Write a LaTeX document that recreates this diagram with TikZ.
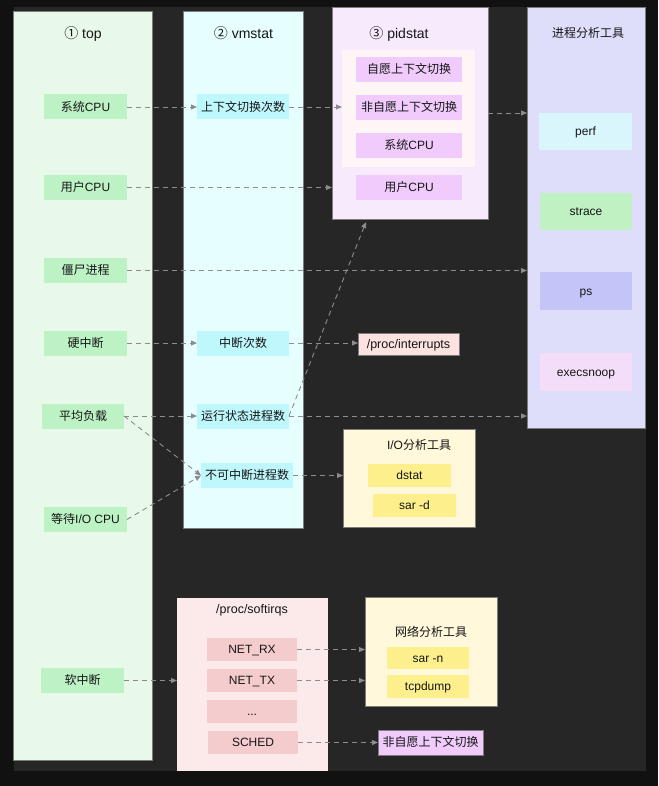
\documentclass[tikz,border=0pt]{standalone}
\usepackage{fontspec}
\setmainfont{Liberation Sans}
\newfontfamily\cjk{Noto Sans CJK SC}
\usetikzlibrary{arrows.meta}
\definecolor{outerbg}{HTML}{111111}
\definecolor{innerbg}{HTML}{262626}
\definecolor{colgreen}{HTML}{E8F8E9}
\definecolor{colcyan}{HTML}{E6FEFE}
\definecolor{colpid}{HTML}{F7EAFD}
\definecolor{pidgrpc}{HTML}{FEF6F6}
\definecolor{colproc}{HTML}{DEDEFA}
\definecolor{itgreen}{HTML}{BDF2C5}
\definecolor{itcyan}{HTML}{BEF8FD}
\definecolor{itpurple}{HTML}{F0CBFC}
\definecolor{itperf}{HTML}{D8F6FB}
\definecolor{itstrace}{HTML}{BFF1C3}
\definecolor{itps}{HTML}{C4C4F9}
\definecolor{itexec}{HTML}{F4DDF9}
\definecolor{itint}{HTML}{FCE2E1}
\definecolor{toolbox}{HTML}{FFF8DB}
\definecolor{ityellow}{HTML}{FCEF8C}
\definecolor{colsoft}{HTML}{FCEAEB}
\definecolor{itsoft}{HTML}{F4CCCE}
\definecolor{arrowc}{HTML}{8C8C8C}
\definecolor{framec}{HTML}{7C7C7C}
\definecolor{txt}{HTML}{161616}
\begin{document}
\begin{tikzpicture}[x=1pt,y=-1pt,
  base/.style={inner sep=0pt, outer sep=0pt, align=center, text=txt, font=\fontsize{12}{14}\selectfont},
  column/.style={base, draw=framec, line width=0.8pt, fill=#1},
  item/.style={base, fill=#1, minimum height=25, text height=10pt, text depth=1.2pt},
  coltitle/.style={base, font=\fontsize{14}{16}\selectfont, text height=11.5pt, text depth=1.5pt},
  subtitle/.style={base, font=\fontsize{12}{14}\selectfont, text height=10pt, text depth=1.2pt},
  arr/.style={draw=arrowc, line width=0.9pt, dash pattern=on 5pt off 4pt, -{Triangle[length=6pt,width=5pt]}}
]
\useasboundingbox (0,0) rectangle (658,786);
\fill[outerbg] (0,0) rectangle (658,786);
\fill[innerbg] (14,7) rectangle (646,771);

% columns
\node[column=colgreen, minimum width=138.5, minimum height=749] (ctop) at (82.75,385.5) {};
\node[column=colcyan, minimum width=120, minimum height=517] (cvm) at (243,269.5) {};
\node[column=colpid, minimum width=156, minimum height=212] (cpid) at (410,113) {};
\node[base, fill=pidgrpc, minimum width=133, minimum height=117] (pidgrp) at (408.5,108.5) {};
\node[column=colproc, minimum width=118, minimum height=421] (cproc) at (586,217.5) {};
\node[column=toolbox, minimum width=132, minimum height=98] (iobox) at (409,478) {};
\node[column=colsoft, draw=none, minimum width=151, minimum height=173] (softbox) at (252.5,684.5) {};
\node[column=toolbox, minimum width=132, minimum height=109] (netbox) at (431,651.5) {};

% titles
\node[coltitle] (ttop) at (83,34) {{\cjk ①} top};
\node[coltitle] (tvm) at (243.5,34) {{\cjk ②} vmstat};
\node[coltitle] (tpid) at (399,34) {{\cjk ③} pidstat};
\node[subtitle] (tproc) at (588,33) {\cjk 进程分析工具};
\node[subtitle] (tio) at (419,445) {I/O{\cjk 分析工具}};
\node[subtitle, font=\fontsize{12.5}{14}\selectfont] (tsoft) at (252,609) {/proc/softirqs};
\node[subtitle] (tnet) at (431,632) {\cjk 网络分析工具};

% top items
\node[item=itgreen, minimum width=83] (sys) at (85.5,107) {{\cjk 系统}CPU};
\node[item=itgreen, minimum width=83] (usr) at (85.5,187.5) {{\cjk 用户}CPU};
\node[item=itgreen, minimum width=83] (zombie) at (85.5,270.5) {\cjk 僵尸进程};
\node[item=itgreen, minimum width=83] (hard) at (85.5,343) {\cjk 硬中断};
\node[item=itgreen, minimum width=82] (load) at (83,416) {\cjk 平均负载};
\node[item=itgreen, minimum width=83] (wait) at (85.5,519.5) {{\cjk 等待}I/O CPU};
\node[item=itgreen, minimum width=83] (soft) at (82.5,680.5) {\cjk 软中断};

% vmstat items
\node[item=itcyan, minimum width=92] (ctx) at (243,107) {\cjk 上下文切换次数};
\node[item=itcyan, minimum width=92] (irq) at (243,343) {\cjk 中断次数};
\node[item=itcyan, minimum width=92] (run) at (243,416) {\cjk 运行状态进程数};
\node[item=itcyan, minimum width=92] (unint) at (247,475.5) {\cjk 不可中断进程数};

% pidstat items
\node[item=itpurple, minimum width=106] (vol) at (409,69.5) {\cjk 自愿上下文切换};
\node[item=itpurple, minimum width=106] (nonvol) at (409,107.5) {\cjk 非自愿上下文切换};
\node[item=itpurple, minimum width=106] (psys) at (409,145.5) {{\cjk 系统}CPU};
\node[item=itpurple, minimum width=106] (pusr) at (409,187.5) {{\cjk 用户}CPU};

% process tools
\node[item=itperf, minimum width=93, minimum height=37] (perf) at (585.5,131.5) {perf};
\node[item=itstrace, minimum width=92, minimum height=37] (strace) at (586,211.5) {strace};
\node[item=itps, minimum width=92, minimum height=38] (nps) at (586,291) {ps};
\node[item=itexec, minimum width=92, minimum height=38] (exec) at (586,372) {execsnoop};

% interrupts
\node[item=itint, draw=framec, line width=0.5pt, minimum width=101, minimum height=22, font=\fontsize{12.5}{14}\selectfont] (procint) at (408.5,344) {/proc/interrupts};

% io tools
\node[item=ityellow, minimum width=83, minimum height=23] (dstat) at (409.5,475.5) {dstat};
\node[item=ityellow, minimum width=83, minimum height=23] (sard) at (414.5,505.5) {sar -d};

% softirqs
\node[item=itsoft, minimum width=90, minimum height=23] (netrx) at (252,649.5) {NET\_RX};
\node[item=itsoft, minimum width=90, minimum height=23] (nettx) at (252,680.5) {NET\_TX};
\node[item=itsoft, minimum width=90, minimum height=23] (dots) at (252,711.5) {...};
\node[item=itsoft, minimum width=90, minimum height=23] (sched) at (253,742.5) {SCHED};

% net tools
\node[item=ityellow, minimum width=82, minimum height=22] (sarn) at (428,658) {sar -n};
\node[item=ityellow, minimum width=82, minimum height=23] (tcpd) at (428,686.5) {tcpdump};
\node[item=itpurple, draw=framec, line width=0.5pt, minimum width=105] (nonvol2) at (430.5,742.5) {\cjk 非自愿上下文切换};

\coordinate (pidtip) at (366,222);

% connectors
\draw[arr] (sys.east) -- (ctx.west);
\draw[arr] (ctx.east) -- (ctx.east -| pidgrp.west);
\draw[arr] (usr.east) -- (usr.east -| cpid.west);
\draw[arr] (cpid.east) -- (cpid.east -| cproc.west);
\draw[arr] (zombie.east) -- (zombie.east -| cproc.west);
\draw[arr] (hard.east) -- (irq.west);
\draw[arr] (irq.east) -- (irq.east -| procint.west);
\draw[arr] (load.east) -- (run.west);
\draw[arr] (load.east) -- (unint.west);
\draw[arr] (wait.east) -- (unint.west);
\draw[arr] (run.east) -- (pidtip);
\draw[arr] (run.east) -- (run.east -| cproc.west);
\draw[arr] (unint.east) -- (unint.east -| iobox.west);
\draw[arr] (soft.east) -- (soft.east -| softbox.west);
\draw[arr] (netrx.east) -- (netrx.east -| netbox.west);
\draw[arr] (nettx.east) -- (nettx.east -| netbox.west);
\draw[arr] (sched.east) -- (nonvol2.west);
\end{tikzpicture}
\end{document}
